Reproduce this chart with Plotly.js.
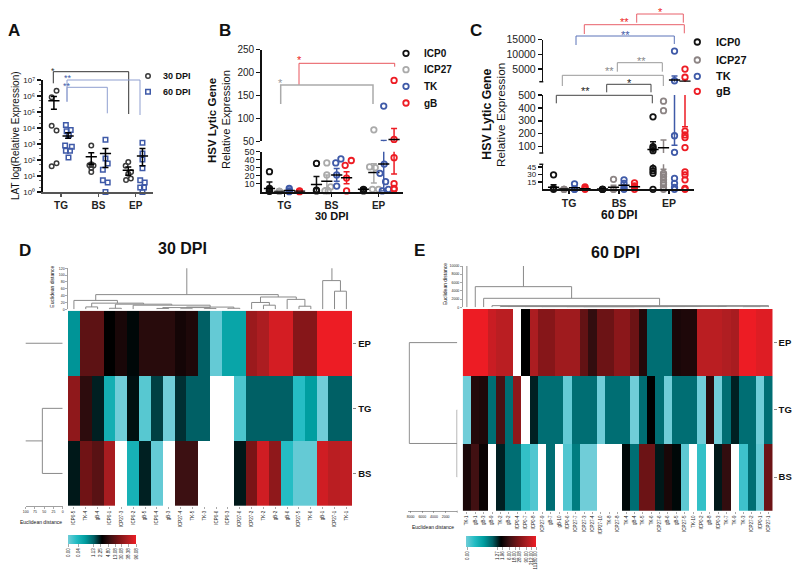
<!DOCTYPE html>
<html>
<head>
<meta charset="utf-8">
<script src="https://cdn.plot.ly/plotly-3.0.1.min.js"></script>
<style>html,body{margin:0;padding:0;background:#fff}</style>
</head>
<body>
<div id="plot" style="width:800px;height:584px"></div>
<script>
const groups = ['TG', 'BS', 'EP'];
const rowNames = ['EP', 'TG', 'BS'];

// panel A
const aTicks = [1, 10, 100, 1e3, 1e4, 1e5, 1e6, 1e7];
const aTickLabels = ['10⁰', '10¹', '10²', '10³', '10⁴', '10⁵', '10⁶', '10⁷'];
const a30X = [-.12, -.25, -.25, -.12, -.12, -.25, .81, .76, .87, .81, .81, .81, 1.80, 1.73, 1.875, 1.80, 1.87, 1.74];
const a30Y = [2.1e6, 8.5e5, 1.4e4, 7e3, 63, 41, 810, 47, 45, 55, 32, 18, 74, 43, 18, 14, 7, 5.6];
const a60X = [.13, .26, .15, .21, .11, .29, .13, .24, .20, 1.19, 1.19, 1.25, 1.12, 1.12, 1.25, 1.19, 2.18, 2.18, 2.18, 2.18, 2.12, 2.24, 2.12, 2.22, 2.18];
const a60Y = [15500, 7600, 6300, 3600, 800, 680, 380, 380, 145, 1860, 126, 60, 25, 5.4, 3.9, 1, 1200, 257, 107, 30, 5.4, 3.9, 1.9, 1.9, 1];
const a30MeanX = [-.19, .81, 1.80], a30Mean = [5e5, 160, 23], a30Low = [1.5e5, 55, 11], a30High = [9.3e5, 280, 37];
const a60MeanX = [.19, 1.19, 2.18], a60Mean = [3200, 257, 175], a60Low = [2250, 34, 43], a60High = [5100, 530, 530];

// panel B
const bIcp0X = [-.32, -.32, -.32, -.32, -.32, .68, .68, .68, 1.68, 1.68, 1.68, 1.68];
const bIcp0Y = [25, 4, 2, 1, .5, 35.4, 2, 1, 3, 2, 2, 1];
const bIcp27X = [-.11, -.11, -.11, .90, .90, .98, .86, .93, 1.81, 1.93, 1.87, 2.0, 1.90];
const bIcp27Y = [.5, .5, .5, 36, 21, 6, 1, 1, 31, 30, 3, 3, 75];
const bTkX = [.10, .10, .10, 1.09, 1.20, 1.11, 1.11, 2.11, 2.12, 2.03, 2.15, 2.08, 2.21];
const bTkY = [4, 1, 0, 36, 41, 21, 7, 127, 34.5, 23, 12.5, 1, 3];
const bGbX = [.32, .32, .32, 1.29, 1.42, 1.32, 1.32, 2.33, 2.33, 2.33, 2.33, 2.33, 2.33];
const bGbY = [1, .5, 0, 33, 39, 17, 1, 183, 54, 42.5, 10, 4, 3];
const bIcp0Mean = [4, 9, 3], bIcp0Low = [0, 0, 1], bIcp0High = [12, 19, 5];
const bIcp27Mean = [.3, 13, 24], bIcp27Low = [0, 5, 11], bIcp27High = [1, 21, 35];
const bTkMean = [1.5, 21, 34.5], bTkLow = [0, 13, 1], bTkHigh = [4, 29, 52];
const bGbMean = [.5, 17.5, 54], bGbLow = [0, 10, 22], bGbHigh = [1, 25, 78];

// panel C
const cIcp0X = [-.31, -.31, -.31, .67, .67, .67, 1.68, 1.68, 1.68, 1.68, 1.68, 1.68, 1.68, 1.68];
const cIcp0Y = [29, 2, 0, 0, 0, 0, 331, 86, 68, 100, 42, 37, 32, 0];
const cIcp27X = [-.10, -.10, -.10, .89, .89, .89, 1.89, 1.89, 1.89, 1.89, 1.89, 1.89, 1.89, 1.89, 1.89, 1.89];
const cIcp27Y = [0, 0, 0, 20, 0, 0, 452, 378, 32, 29, 25, 19, 13, 9, 3, 0];
const cTkX = [.11, .11, .11, 1.10, 1.10, 1.10, 1.10, 2.11, 2.11, 2.11, 2.11, 2.11, 2.11, 2.11, 2.11];
const cTkY = [11, 0, 0, 19, 12, 4, 0, 11136, 1000, 184, 55, 22, 12, 4, 0];
const cGbX = [.32, .32, .32, 1.31, 1.31, 1.31, 2.32, 2.32, 2.32, 2.32, 2.32, 2.32, 2.32, 2.32, 2.32, 2.32, 2.32];
const cGbY = [5, 2, 0, 13, 7, 0, 5000, 2200, 220, 190, 170, 92, 35, 29, 19, 2, 0];
const cIcp0Mean = [4, .5, 78], cIcp0Low = [0, 0, 35], cIcp0High = [9, 1, 138];
const cIcp27Mean = [.5, 4, 91], cIcp27Low = [0, 0, 40], cIcp27High = [1, 8, 150];
const cTkMean = [3, 8, 1300], cTkLow = [0, 2, 110], cTkHigh = [6, 14, 2600];
const cGbMean = [1, 5, 800], cGbLow = [0, 0, 254], cGbHigh = [2, 9, 1400];

// panel D, colour level 0-1 read from the cells, null = white
const dColumns = ['ICP0-5', 'TK-4', 'gB-4', 'ICP0-1', 'ICP27-3', 'ICP0-2', 'gB-5', 'ICP0-4', 'gB-3', 'ICP27-4', 'TK-5', 'TK-3', 'ICP0-6', 'ICP0-3', 'ICP27-6', 'ICP27-2', 'TK-2', 'gB-2', 'gB-6', 'ICP27-5', 'TK-6', 'gB-1', 'ICP27-1', 'TK-1'];
const dEP = [.27, .69, .69, .5, .55, .49, .58, .58, .58, .54, .56, .38, .02, .22, .22, .83, .87, .95, .95, .78, .78, 1, 1, 1];
const dTG = [.8, .59, .46, .18, 0, .48, .04, .42, 0, .44, .38, .38, null, null, .06, .38, .38, .38, .38, .12, .25, 0, .38, .38];
const dBS = [.47, .73, .68, .86, null, .17, .46, .02, null, .62, .62, null, null, null, .47, .75, .94, .8, .12, .02, .02, .94, .9, .91];
const dScaleTicks = [0, .148, .37, .468, .591, .69, .788, .887, 1];
const dScaleLabels = ['0.00', '0.04', '1.13', '2.25', '4.80', '13.08', '30.08', '38.38', '96.08'];

// panel E
const eColumns = ['TK-1', 'gB-1', 'gB-3', 'gB-9', 'TK-2', 'gB-2', 'ICP0-4', 'ICP0-7', 'ICP0-8', 'ICP27-9', 'gB-7', 'gB-10', 'ICP0-6', 'ICP27-7', 'ICP27-3', 'ICP27-4', 'ICP27-10', 'TK-8', 'ICP27-8', 'TK-4', 'gB-4', 'TK-5', 'TK-6', 'ICP27-6', 'gB-6', 'gB-5', 'ICP27-5', 'TK-10', 'ICP0-2', 'gB-8', 'ICP0-3', 'TK-7', 'TK-9', 'TK-3', 'ICP27-2', 'ICP0-1', 'ICP27-1'];
const eEP = [1, 1, 1, .93, .9, .9, null, .5, .87, .78, .78, .84, .84, .84, .7, .6, .72, .72, .79, .79, .72, .57, .35, .35, .35, .55, .56, .56, .9, .9, .9, .88, .86, 1, 1, .97, .97];
const eTG = [0, .57, .56, .35, .65, .35, .8, null, .46, .35, .35, .35, .02, .35, .35, .35, 0, .35, .35, .35, 0, .35, .5, .35, 0, .35, .35, .35, 0, .58, 0, .35, .46, .35, .35, 0, .35];
const eBS = [.55, .63, .52, null, .46, .35, .35, .1, .05, null, .35, null, .05, .32, 0, 0, null, null, null, .49, .35, .72, .72, .47, .55, .49, .03, null, .1, null, .47, .6, null, .08, .35, .02, .72];
const eScaleTicks = [.02, .45, .52, .62, .70, .77, .87, .93, 1];
const eScaleLabels = ['0.00', '1.27', '1.96', '6.00', '18.00', '28.08', '90.00', '212.00', '11180.00'];

// dendrogram links: [left pos, right pos, left height, right height, height]
const dTopLinks = [[9.53, 21.78, 43, 84, 134], [21, 22.5, 0, 53, 84], [22, 23, 0, 0, 53], [1.84, 17.25, 26, 36, 43], [0, 3.67, 0, 18, 26], [15.75, 18.77, 20, 29, 36], [15, 16.5, 0, 12, 20], [16, 17, 0, 0, 12], [18, 19.5, 0, 9, 29], [19, 20, 0, 0, 9], [1.5, 5.88, 7, 15, 18], [1, 2, 0, 0, 7], [3.5, 8.26, 3, 12, 15], [3, 4, 0, 0, 3], [5, 11.5, 0, 6.5, 12], [9.5, 13.5, 5, 3, 6.5], [7.5, 11.5, 2.5, 2, 5], [7, 8, 0, 0, 2.5], [11, 12, 0, 0, 2], [9, 10, 0, 0, 1.5], [13, 14, 0, 0, 3]];
const dLeftLinks = [[1, 2, 0, 0, 55], [0, 1.5, 0, 55, 120]];
const eTopLinks = [[0, 6.75, 0, 5000, 11370], [1, 12.5, 0, 2180, 5000], [2, 23, 0, 400, 2180], [3, 36, 0, 200, 400], [4, 31, 0, 170, 200], [5, 28, 0, 150, 170], [7, 26, 0, 130, 150], [9, 24, 0, 110, 130], [12, 22, 0, 90, 110], [14, 20, 0, 60, 90], [30, 36, 0, 0, 240], [33, 35, 0, 0, 100]];
const eLeftLinks = [[1, 2, 0, 0, 40], [0, 1.5, 0, 40, 8230]];

const W = 800, H = 584;
const FONT = '"Liberation Sans", Arial, sans-serif';
const BLACK = '#111', GRAY_B = '#aaa', GRAY_C = '#8c8484', BLUE = '#3f5aa8', RED = '#ed1c24';

const heatScale = [[0, '#70cdd8'], [.12, '#25bdc4'], [.25, '#009ea0'], [.38, '#006065'], [.5, '#000000'], [.62, '#3c1012'], [.75, '#7a1416'], [.88, '#b01e22'], [1, '#ed1c24']];

function dx(a, b) { return [a / W, b / W]; }
function dy(top, bottom) { return [1 - bottom / H, 1 - top / H]; }

function range(n) { return Array.from({length: n}, (_, i) => i); }

var traces = [];
var shapes = [];
var annotations = [];

function dots(xa, ya, xs, ys, color, symbol, size, width) {
    traces.push({
        type: 'scatter', mode: 'markers', x: xs, y: ys, xaxis: xa, yaxis: ya, cliponaxis: false,
        marker: {symbol: symbol || 'circle-open', size: size || 5.5, color: color, line: {color: color, width: width || 1.8}},
        hoverinfo: 'x+y'
    });
}

// mean dash with error bars, clipped so it can run across a broken axis
function mean(xa, ya, xs, ys, low, high, color) {
    traces.push({
        type: 'scatter', mode: 'markers', x: xs, y: ys, xaxis: xa, yaxis: ya, cliponaxis: true,
        marker: {symbol: 'line-ew', size: 8, color: '#000', line: {color: '#000', width: 1.5}},
        error_y: {
            type: 'data', symmetric: false, color: color, thickness: 1.5, width: 3,
            array: ys.map((v, i) => high[i] - v), arrayminus: ys.map((v, i) => v - low[i])
        }
    });
}

// points go on the piece of the broken axis that holds them
function segment(xs, ys, lo, hi) {
    var keep = range(ys.length).filter(i => ys[i] >= lo && ys[i] < hi);
    return [keep.map(i => xs[i]), keep.map(i => ys[i])];
}

function brokenSeries(xa, segs, xs, ys, meanX, m, low, high, color) {
    segs.forEach(function (s) {
        var part = segment(xs, ys, s.lo, s.hi);
        dots(xa, s.axis, part[0], part[1], color);
        mean(xa, s.axis, meanX, m, low, high, color);
    });
}

function linkLines(links) {
    var pos = [], h = [];
    links.forEach(function (l) {
        pos.push(l[0], l[0], l[1], l[1], null);
        h.push(l[2], l[4], l[4], l[3], null);
    });
    return {pos: pos, h: h};
}

function dendro(xa, ya, links, sideways) {
    var d = linkLines(links);
    traces.push({
        type: 'scatter', mode: 'lines', x: sideways ? d.h : d.pos, y: sideways ? d.pos : d.h,
        xaxis: xa, yaxis: ya, cliponaxis: false, connectgaps: false,
        line: {color: '#8a8a8a', width: 1}, hoverinfo: 'skip'
    });
}

function heat(xa, ya, columns, rows, colorbar) {
    traces.push({
        type: 'heatmap', x: range(columns.length), y: [0, 1, 2], z: rows, xaxis: xa, yaxis: ya,
        zmin: 0, zmax: 1, colorscale: heatScale, xgap: 0, ygap: 0, colorbar: colorbar
    });
}

function scaleBar(left, top, len, thick, ticks, labels) {
    return {
        orientation: 'h', x: left / W, xanchor: 'left', y: 1 - top / H, yanchor: 'top',
        lenmode: 'pixels', len: len, thicknessmode: 'pixels', thickness: thick, xpad: 0, ypad: 0,
        outlinewidth: 0, tickmode: 'array', tickvals: ticks, ticktext: labels, ticks: 'outside',
        ticklen: 3, tickwidth: .5, tickcolor: '#555', tickangle: -90, tickfont: {size: 4.5, color: '#222', family: FONT}
    };
}

function bracket(x0, y0, yTop, x1, y1, color, width) {
    shapes.push({
        type: 'path', xref: 'x10', yref: 'y13', line: {color: color, width: width || 1},
        path: 'M' + x0 + ',' + y0 + ' L' + x0 + ',' + yTop + ' L' + x1 + ',' + yTop + ' L' + x1 + ',' + y1
    });
}

function label(x, y, text, size, opts) {
    annotations.push(Object.assign({
        xref: 'x10', yref: 'y13', x: x, y: y, text: text, showarrow: false,
        font: {family: FONT, size: size, color: '#111'}, xanchor: 'center', yanchor: 'middle'
    }, opts || {}));
}

function stars(x, y, text, color, size) {
    var s = size || 11;
    label(x, y + 1.5, text, s, {font: {family: FONT, size: s, color: color}});
}

function boldLabel(x, y, text, size, opts) {
    label(x, y, '<b>' + text + '</b>', size, opts);
}

function legendKeys(xs, ys, colors, symbols, size, width) {
    traces.push({
        type: 'scatter', mode: 'markers', x: xs, y: ys, xaxis: 'x10', yaxis: 'y13', cliponaxis: false,
        marker: {symbol: symbols, size: size, color: colors, line: {color: colors, width: width}}, hoverinfo: 'skip'
    });
}

// ---- panel A
dots('x', 'y', a30X, a30Y, '#3a3a3a', 'circle-open', 4.5, 1.5);
dots('x', 'y', a60X, a60Y, BLUE, 'square-open', 4.5, 1.5);
mean('x', 'y', a30MeanX, a30Mean, a30Low, a30High, '#000');
mean('x', 'y', a60MeanX, a60Mean, a60Low, a60High, '#000');

// ---- panel B
const bSegs = [{axis: 'y2', lo: -1, hi: 50}, {axis: 'y3', lo: 50, hi: 1e9}];
const bMeanX = [[-.32, .68, 1.68], [-.11, .90, 1.90], [.10, 1.11, 2.11], [.32, 1.32, 2.33]];
brokenSeries('x2', bSegs, bIcp0X, bIcp0Y, bMeanX[0], bIcp0Mean, bIcp0Low, bIcp0High, BLACK);
brokenSeries('x2', bSegs, bIcp27X, bIcp27Y, bMeanX[1], bIcp27Mean, bIcp27Low, bIcp27High, GRAY_B);
brokenSeries('x2', bSegs, bTkX, bTkY, bMeanX[2], bTkMean, bTkLow, bTkHigh, BLUE);
brokenSeries('x2', bSegs, bGbX, bGbY, bMeanX[3], bGbMean, bGbLow, bGbHigh, RED);

// ---- panel C
const cSegs = [{axis: 'y4', lo: -1, hi: 50}, {axis: 'y5', lo: 50, hi: 650}, {axis: 'y6', lo: 650, hi: 1e9}];
const cMeanX = [[-.31, .67, 1.68], [-.10, .89, 1.89], [.11, 1.10, 2.11], [.32, 1.31, 2.32]];
brokenSeries('x3', cSegs, cIcp0X, cIcp0Y, cMeanX[0], cIcp0Mean, cIcp0Low, cIcp0High, BLACK);
brokenSeries('x3', cSegs, cIcp27X, cIcp27Y, cMeanX[1], cIcp27Mean, cIcp27Low, cIcp27High, GRAY_C);
brokenSeries('x3', cSegs, cTkX, cTkY, cMeanX[2], cTkMean, cTkLow, cTkHigh, BLUE);
brokenSeries('x3', cSegs, cGbX, cGbY, cMeanX[3], cGbMean, cGbLow, cGbHigh, RED);

// ---- heatmaps
heat('x4', 'y7', dColumns, [dEP, dTG, dBS], scaleBar(68.3, 534.7, 67.7, 8.6, dScaleTicks, dScaleLabels));
dendro('x5', 'y8', dTopLinks, false);
dendro('x6', 'y9', dLeftLinks, true);
heat('x7', 'y10', eColumns, [eEP, eTG, eBS], scaleBar(466, 536, 70, 10.6, eScaleTicks, eScaleLabels));
dendro('x8', 'y11', eTopLinks, false);
dendro('x9', 'y12', eLeftLinks, true);

// ---- legends
legendKeys([148], [76], ['#3a3a3a'], ['circle-open'], 4.5, 1.5);
legendKeys([148], [91.7], [BLUE], ['square-open'], 4.5, 1.5);
legendKeys([406, 406, 406, 406], [53.3, 69.7, 86.3, 103], [BLACK, GRAY_B, BLUE, RED], 'circle-open', 5.5, 1.8);
legendKeys([697.3, 697.3, 697.3, 697.3], [42, 60, 76.3, 91.3], [BLACK, GRAY_C, BLUE, RED], 'circle-open', 5.5, 1.8);

const seriesNames = ['ICP0', 'ICP27', 'TK', 'gB'];
seriesNames.forEach(function (name, i) {
    boldLabel(422, [53.3, 69.7, 86.3, 103][i], name, 10, {xanchor: 'left'});
    boldLabel(714.3, [42, 60, 76.3, 91.3][i], name, 11, {xanchor: 'left'});
});
boldLabel(160.7, 76, '30 DPI', 9, {xanchor: 'left'});
boldLabel(160.7, 91.7, '60 DPI', 9, {xanchor: 'left'});

// ---- brackets and significance marks
bracket(53.3, 83.3, 71.7, 128.7, 114, '#333');
bracket(67, 101.7, 80, 140, 115, '#8f9fd0');
bracket(67, 101.7, 87.3, 107.3, 113.3, '#8f9fd0');
stars(53.3, 69, '*', '#333', 9);
stars(67.7, 76.5, '**', BLUE, 9);
stars(67, 84, '**', BLUE, 9);

bracket(299, 85, 63.3, 394.7, 66.7, '#e8555c');
bracket(280.7, 104, 85, 373, 104, '#aaa', 1.5);
stars(299, 58, '*', RED);
stars(280.7, 81.5, '*', '#999');

bracket(636.7, 22.7, 14, 683.3, 22.7, '#e8606a');
bracket(584.3, 34, 24.7, 684.3, 33.3, '#e8606a');
bracket(576, 45, 36, 674.3, 44, '#5a72b8');
bracket(617.3, 71.7, 62.7, 662.3, 71.7, '#999');
bracket(562.3, 86, 75.3, 663.3, 86, '#999');
bracket(606.7, 92.3, 84.3, 651, 92.3, '#444');
bracket(556.3, 103.3, 95.3, 652.3, 103.3, '#444');
stars(660, 10.5, '*', RED);
stars(624, 20, '**', RED);
stars(625, 33, '**', BLUE);
stars(641.7, 59.5, '**', '#888');
stars(609.3, 69.5, '**', '#888');
stars(629.7, 81.5, '*', '#222');
stars(585, 89.5, '**', '#222');

// end ticks on the broken axis pieces
[164.3, 153, 81.7].forEach(function (y) { bracket(539.3, y, y, 543.3, y, '#111', 1.5); });
bracket(457.3, 510.7, 512.7, 457.3, 512.7, '#555', .5);

// ---- panel letters and titles
boldLabel(14.3, 30.7, 'A', 17);
boldLabel(225, 30.7, 'B', 17);
boldLabel(476, 30.7, 'C', 17);
boldLabel(25, 250, 'D', 17);
boldLabel(419.3, 250, 'E', 17);
boldLabel(182, 248, '30 DPI', 16);
boldLabel(615, 252.7, '60 DPI', 16);
label(15, 136, 'LAT log(Relative Expression)', 10, {textangle: -90});
boldLabel(212, 121, 'HSV Lytic Gene', 11.5, {textangle: -90});
label(226, 120, 'Relative Expression', 11.2, {textangle: -90});
boldLabel(331.7, 216, '30 DPI', 11);
boldLabel(486.7, 114, 'HSV Lytic Gene', 12.3, {textangle: -90});
label(501, 115, 'Relative Expression', 11.8, {textangle: -90});
boldLabel(619, 215, '60 DPI', 12);
label(52, 286.7, 'Euclidean distance', 5, {textangle: -90});
label(41, 522, 'Euclidean distance', 5);
label(445, 284, 'Euclidean distance', 5, {textangle: -90});
label(433, 527, 'Euclidean distance', 5);

// ---- axes
const TICK = {family: FONT, color: '#222'};

function catAxis(domain, rng, anchor, size, lineColor, width) {
    return {
        domain: domain, range: rng, anchor: anchor, tickmode: 'array', tickvals: [0, 1, 2],
        ticktext: groups.map(g => '<b>' + g + '</b>'), ticks: 'outside', ticklen: 3, tickwidth: 1.5,
        tickcolor: lineColor, showline: true, linecolor: lineColor, linewidth: width, showgrid: false, zeroline: false,
        tickfont: Object.assign({size: size}, TICK)
    };
}

function valAxis(domain, rng, anchor, vals, text, size) {
    return {
        domain: domain, range: rng, anchor: anchor, tickmode: 'array', tickvals: vals, ticktext: text,
        ticks: 'outside', ticklen: 4, tickwidth: 1.5, tickcolor: '#111', showline: true, linecolor: '#111', linewidth: 1.5,
        showgrid: false, zeroline: false, tickfont: Object.assign({size: size}, TICK)
    };
}

function heatX(domain, columns, anchor) {
    return {
        domain: domain, range: [-.5, columns.length - .5], anchor: anchor, tickmode: 'array',
        tickvals: range(columns.length), ticktext: columns, tickangle: -90, ticks: 'outside', ticklen: 2, tickwidth: .5,
        tickcolor: '#555', showgrid: false, zeroline: false, showline: false, tickfont: {size: 4.5, color: '#222', family: FONT}
    };
}

function heatY(domain, anchor) {
    return {
        domain: domain, range: [2.5, -.5], anchor: anchor, side: 'right', tickmode: 'array', tickvals: [0, 1, 2],
        ticktext: rowNames.map(r => '<b>' + r + '</b>'), ticks: 'outside', ticklen: 3, tickwidth: .7, tickcolor: '#555',
        showgrid: false, zeroline: false, tickfont: {size: 9.5, color: '#111', family: FONT}
    };
}

function hidden(domain, rng, anchor) {
    return {domain: domain, range: rng, anchor: anchor, visible: false, fixedrange: true, showgrid: false, zeroline: false};
}

function rulerX(domain, rng, anchor, vals, text) {
    return {
        domain: domain, range: rng, anchor: anchor, tickmode: 'array', tickvals: vals, ticktext: text, tickangle: 0,
        ticks: 'outside', ticklen: 2, tickwidth: .5, tickcolor: '#555', showline: true, linecolor: '#777', linewidth: .7,
        showgrid: false, zeroline: false, tickfont: {size: 3.5, color: '#222', family: FONT}
    };
}

function rulerY(domain, rng, anchor, vals) {
    return {
        domain: domain, range: rng, anchor: anchor, tickmode: 'array', tickvals: vals, ticktext: vals.map(String),
        ticks: 'outside', ticklen: 2, tickwidth: .5, tickcolor: '#555', showline: true, linecolor: '#777', linewidth: .7,
        showgrid: false, zeroline: false, tickfont: {size: 3.5, color: '#222', family: FONT}
    };
}

const layout = {
    width: W, height: H, autosize: false, showlegend: false,
    margin: {l: 0, r: 0, t: 0, b: 0, pad: 0, autoexpand: false},
    paper_bgcolor: '#fff', plot_bgcolor: 'rgba(0,0,0,0)',
    font: {family: FONT},
    shapes: shapes, annotations: annotations,

    xaxis: catAxis(dx(42.7, 153.3), [-.49, 2.47], 'y', 10, '#555', 2),
    yaxis: Object.assign(valAxis(dy(80, 192), [0, 7], 'x', aTicks, aTickLabels, 8), {
        type: 'log', linewidth: 2,
        minor: {ticks: 'outside', ticklen: 2, tickwidth: .6, tickcolor: '#111', showgrid: false}
    }),

    xaxis2: catAxis(dx(261.7, 403), [-.485, 2.52], 'y2', 10, '#111', 2),
    yaxis2: valAxis(dy(151.7, 191.7), [0, 50], 'x2', [10, 20, 30, 40, 50], ['10', '20', '30', '40', '50'], 9),
    yaxis3: valAxis(dy(49.7, 141.3), [50, 250], 'x2', [50, 100, 150, 200, 250], ['50', '100', '150', '200', '250'], 10),

    xaxis3: catAxis(dx(543.3, 694), [-.515, 2.5], 'y4', 10.5, '#111', 2),
    yaxis4: valAxis(dy(164.3, 189.3), [0, 50], 'x3', [15, 30, 45], ['15', '30', '45'], 8),
    yaxis5: valAxis(dy(95, 153), [50, 500], 'x3', [100, 200, 300, 400, 500], ['100', '200', '300', '400', '500'], 10.5),
    yaxis6: valAxis(dy(39.7, 81.7), [680, 15000], 'x3', [5000, 10000, 15000], ['5000', '10000', '15000'], 10.5),

    xaxis4: heatX(dx(68, 352.3), dColumns, 'y7'),
    yaxis7: heatY(dy(310.7, 506), 'x4'),
    xaxis5: hidden(dx(68, 352.3), [-.5, 23.5], 'y8'),
    yaxis8: rulerY(dy(268.3, 309.3), [0, 120], 'x5', [0, 20, 40, 60, 80, 100, 120]),
    xaxis6: rulerX(dx(25.7, 62.7), [100, 0], 'y9', [100, 75, 50, 25, 0], ['100', '75', '50', '25', '0']),
    yaxis9: hidden(dy(310.7, 506), [2.5, -.5], 'x6'),

    xaxis7: heatX(dx(462.7, 772.7), eColumns, 'y10'),
    yaxis10: heatY(dy(309, 510.7), 'x7'),
    xaxis8: hidden(dx(462.7, 772.7), [-.5, 36.5], 'y11'),
    yaxis11: rulerY(dy(266, 307.3), [0, 10000], 'x8', [0, 2000, 4000, 6000, 8000, 10000]),
    xaxis9: rulerX(dx(408.3, 457.3), [8400, 0], 'y12', [8000, 6000, 4000, 2000], ['8000', '6000', '4000', '2000']),
    yaxis12: hidden(dy(309, 510.7), [2.5, -.5], 'x9'),

    // full page overlay in image units, holds legends, brackets and labels
    xaxis10: hidden([0, 1], [0, W], 'y13'),
    yaxis13: hidden([0, 1], [H, 0], 'x10')
};

Plotly.newPlot('plot', traces, layout, {displayModeBar: false, staticPlot: true});
</script>
</body>
</html>
